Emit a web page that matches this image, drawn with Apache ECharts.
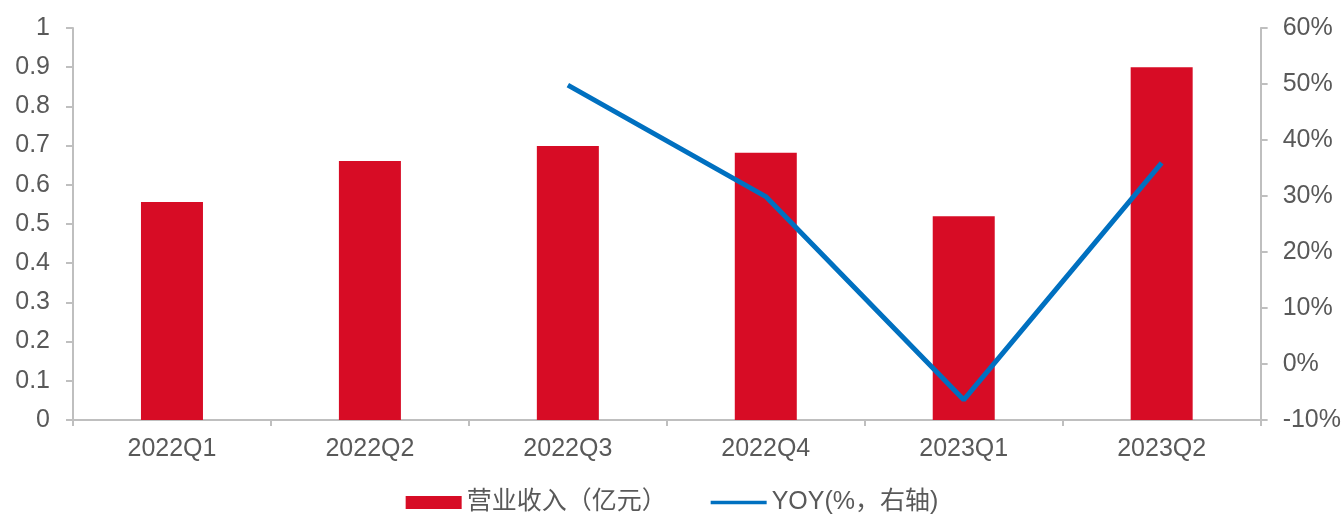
<!DOCTYPE html>
<html>
<head>
<meta charset="utf-8">
<script src="https://cdn.jsdelivr.net/npm/echarts@6/dist/echarts.min.js"></script>
<style>
html,body{margin:0;padding:0;background:#fff;}
#main{width:1344px;height:518px;}
</style>
</head>
<body>
<div id="main"></div>
<script>
// 季度
var quarters = ['2022Q1', '2022Q2', '2022Q3', '2022Q4', '2023Q1', '2023Q2'];
// 营业收入（亿元）
var revenue = [0.556, 0.661, 0.699, 0.682, 0.520, 0.900];
// YOY(%)
var yoy = [null, null, 49.8, 29.9, -6.4, 35.9];

var axisColor = '#BFBFBF';
var textColor = '#595959';
var fontFamily = 'Liberation Sans, Arial, Noto Sans CJK SC, sans-serif';

var option = {
    animation: false,
    backgroundColor: '#fff',
    textStyle: { fontFamily: fontFamily },
    legend: {
        bottom: -2,
        left: 'center',
        itemGap: 44,
        itemWidth: 56,
        itemHeight: 13,
        textStyle: { color: textColor, fontSize: 25, fontFamily: fontFamily },
        data: [
            { name: '营业收入（亿元）', icon: 'rect' },
            { name: 'YOY(%，右轴)', icon: 'path://M0,0 L62,0 L62,4 L0,4 Z', itemStyle: { color: '#0070C0' } }
        ]
    },
    grid: {
        left: 73,
        right: 82,
        top: 28,
        bottom: 98
    },
    xAxis: {
        type: 'category',
        data: quarters,
        axisLine: { lineStyle: { color: axisColor, width: 2 } },
        axisTick: { show: true, length: 6, lineStyle: { color: axisColor, width: 2 } },
        axisLabel: { color: textColor, fontSize: 25, margin: 17 }
    },
    yAxis: [
        {
            type: 'value',
            min: 0,
            max: 1,
            interval: 0.1,
            splitLine: { show: false },
            axisLine: { show: true, lineStyle: { color: axisColor, width: 2 } },
            axisTick: { show: true, length: 7, lineStyle: { color: axisColor, width: 2 } },
            axisLabel: { color: textColor, fontSize: 25, margin: 23 }
        },
        {
            type: 'value',
            min: -10,
            max: 60,
            interval: 10,
            splitLine: { show: false },
            axisLine: { show: true, lineStyle: { color: axisColor, width: 2 } },
            axisTick: { show: true, length: 7, lineStyle: { color: axisColor, width: 2 } },
            axisLabel: { color: textColor, fontSize: 25, margin: 22, formatter: '{value}%' }
        }
    ],
    series: [
        {
            name: '营业收入（亿元）',
            type: 'bar',
            barWidth: 62,
            itemStyle: { color: '#D70C25' },
            data: revenue
        },
        {
            name: 'YOY(%，右轴)',
            type: 'line',
            yAxisIndex: 1,
            symbol: 'none',
            connectNulls: false,
            lineStyle: { color: '#0070C0', width: 5 },
            itemStyle: { color: '#0070C0' },
            data: yoy
        }
    ]
};

var myChart = echarts.init(document.getElementById('main'));
myChart.setOption(option);
</script>
</body>
</html>
